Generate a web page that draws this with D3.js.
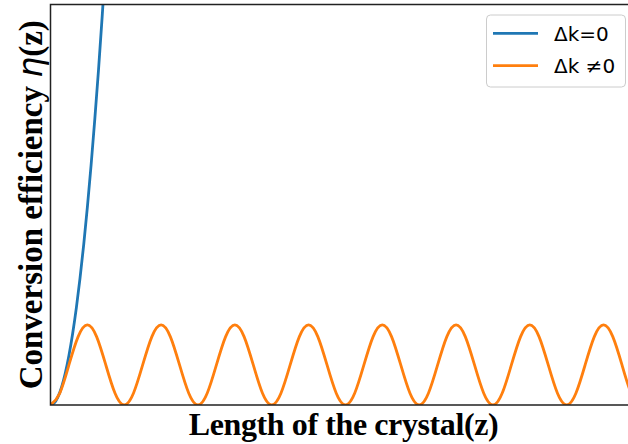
<!DOCTYPE html>
<html><head><meta charset="utf-8">
<script src="https://cdn.jsdelivr.net/npm/d3@7"></script>
<style>body{margin:0;background:#fff}svg{display:block}</style>
</head><body>
<svg id="chart" width="628" height="444"></svg>
<script>
// ---- data ----
const seriesNames = ["Δk=0", "Δk ≠0"];
const seriesColors = ["#1f77b4", "#ff7f0e"];
const xDomain = [0, 39.7];
const yDomain = [0, 5];
const blueZ = [0, 0.25, 0.5, 0.75, 1.0, 1.25, 1.5, 1.75, 2.0, 2.25, 2.5, 2.75, 3.0, 3.25, 3.5, 3.75];
const blueEta = [0, 0.025, 0.099, 0.222, 0.395, 0.617, 0.889, 1.21, 1.58, 2.00, 2.47, 2.99, 3.56, 4.17, 4.84, 5.55];
const orangeZ = [0, 0.625, 1.25, 1.875, 2.5, 3.125, 3.75, 4.375,
  5, 5.625, 6.25, 6.875, 7.5, 8.125, 8.75, 9.375,
  10, 10.625, 11.25, 11.875, 12.5, 13.125, 13.75, 14.375,
  15, 15.625, 16.25, 16.875, 17.5, 18.125, 18.75, 19.375,
  20, 20.625, 21.25, 21.875, 22.5, 23.125, 23.75, 24.375,
  25, 25.625, 26.25, 26.875, 27.5, 28.125, 28.75, 29.375,
  30, 30.625, 31.25, 31.875, 32.5, 33.125, 33.75, 34.375,
  35, 35.625, 36.25, 36.875, 37.5, 38.125, 38.75, 39.375, 40];
const orangeEta = [0, 0.146, 0.5, 0.854, 1, 0.854, 0.5, 0.146,
  0, 0.146, 0.5, 0.854, 1, 0.854, 0.5, 0.146,
  0, 0.146, 0.5, 0.854, 1, 0.854, 0.5, 0.146,
  0, 0.146, 0.5, 0.854, 1, 0.854, 0.5, 0.146,
  0, 0.146, 0.5, 0.854, 1, 0.854, 0.5, 0.146,
  0, 0.146, 0.5, 0.854, 1, 0.854, 0.5, 0.146,
  0, 0.146, 0.5, 0.854, 1, 0.854, 0.5, 0.146,
  0, 0.146, 0.5, 0.854, 1, 0.854, 0.5, 0.146, 0];
const xLabel = "Length of the crystal(z)";
const yLabelParts = ["Conversion efficiency ", "η", "(z)"];

// ---- drawing ----
(function () {
const svg = d3.select("#chart");
const mLeft = 50.5, mRight = 636, mTop = 4.5, mBottom = 405;
const x = d3.scaleLinear().domain(xDomain).range([mLeft, mRight]);
const y = d3.scaleLinear().domain(yDomain).range([mBottom, mTop]);

svg.append("defs").append("clipPath").attr("id", "clip")
  .append("rect").attr("x", mLeft).attr("y", mTop).attr("width", mRight - mLeft).attr("height", mBottom - mTop);

const line = d3.line().x(d => x(d[0])).y(d => y(d[1])).curve(d3.curveNatural);
const series = [
  blueZ.map((z, i) => [z, blueEta[i]]),
  orangeZ.map((z, i) => [z, orangeEta[i]])
];
const g = svg.append("g").attr("clip-path", "url(#clip)");
series.forEach((s, i) => {
  g.append("path").datum(s).attr("d", line)
    .attr("fill", "none").attr("stroke", seriesColors[i])
    .attr("stroke-width", 2.8).attr("stroke-linejoin", "round").attr("stroke-linecap", "round");
});

// spines
svg.append("path").attr("d", `M${mLeft},${mTop}H${mRight}V${mBottom}H${mLeft}Z`)
  .attr("stroke", "#222").attr("stroke-width", 1.5).attr("fill", "none");

// axes (no ticks)
svg.append("g").attr("transform", `translate(0,${mBottom})`)
  .call(d3.axisBottom(x).tickValues([]).tickSize(0)).select(".domain").remove();
svg.append("g").attr("transform", `translate(${mLeft},0)`)
  .call(d3.axisLeft(y).tickValues([]).tickSize(0)).select(".domain").remove();

// labels
svg.append("text").attr("x", 343.5).attr("y", 434.5)
  .attr("text-anchor", "middle")
  .attr("font-family", "Liberation Serif, Times New Roman, serif")
  .attr("font-weight", "bold").attr("font-size", 32).attr("letter-spacing", -0.4).attr("fill", "#000")
  .text(xLabel);

const yl = svg.append("text")
  .attr("transform", `translate(42,${(mTop + mBottom) / 2}) rotate(-90)`)
  .attr("text-anchor", "middle")
  .attr("font-family", "Liberation Serif, Times New Roman, serif")
  .attr("font-weight", "bold").attr("font-size", 33).attr("fill", "#000");
yl.append("tspan").text(yLabelParts[0]);
yl.append("tspan").attr("font-family", "DejaVu Sans").attr("font-style", "italic")
  .attr("font-weight", "normal").text(yLabelParts[1]);
yl.append("tspan").text(yLabelParts[2]);

// legend
const lg = svg.append("g");
lg.append("rect").attr("x", 486.5).attr("y", 15).attr("width", 139).attr("height", 72)
  .attr("rx", 4).attr("fill", "#fff").attr("fill-opacity", 0.8)
  .attr("stroke", "#cccccc").attr("stroke-width", 1);
const rows = [33.3, 65.7];
seriesNames.forEach((name, i) => {
  lg.append("line").attr("x1", 493).attr("x2", 538).attr("y1", rows[i]).attr("y2", rows[i])
    .attr("stroke", seriesColors[i]).attr("stroke-width", 2.8);
  lg.append("text").attr("x", 554).attr("y", rows[i] + 7.6)
    .attr("font-family", "DejaVu Sans").attr("font-size", 20).attr("fill", "#000")
    .text(name);
});
})();
</script>
</body></html>
